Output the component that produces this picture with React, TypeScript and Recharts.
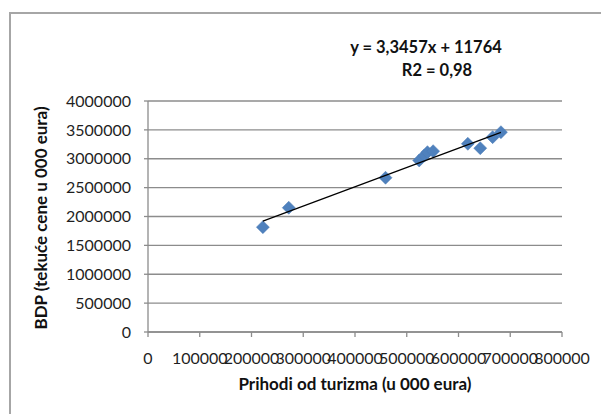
import { CartesianGrid, Customized, Scatter, ScatterChart, XAxis, YAxis } from "recharts";

// prihodi od turizma vs BDP (000 eura)
const prihodi = [222000, 272000, 459000, 524000, 534000, 540000, 551000, 618000, 642000, 666000, 682000];
const bdp = [1816000, 2152000, 2671000, 2970000, 3057000, 3114000, 3131000, 3259000, 3183000, 3374000, 3460000];

// linear trend drawn by Excel, endpoints as they appear
const trendX = [222000, 682000];
const trendY = [1920000, 3457000];

const xTicks = [0, 100000, 200000, 300000, 400000, 500000, 600000, 700000, 800000];
const yTicks = [0, 500000, 1000000, 1500000, 2000000, 2500000, 3000000, 3500000, 4000000];

const equation = "y = 3,3457x + 11764";
const rSquared = "R2 = 0,98";
const xTitle = "Prihodi od turizma (u 000 eura)";
const yTitle = "BDP (tekuće cene u 000 eura)";

const points = prihodi.map((x, i) => ({ x, y: bdp[i] }));
const trend = trendX.map((x, i) => ({ x, y: trendY[i] }));

const FONT = "Lato, 'Open Sans', sans-serif";
const GRID = "#8c8c8c";

function Diamond(props: any) {
  const { cx, cy } = props;
  const r = 6.5;
  return (
    <polygon
      points={`${cx},${cy - r} ${cx + r},${cy} ${cx},${cy + r} ${cx - r},${cy}`}
      fill="#4f81bd"
      stroke="#4a7ab5"
      strokeWidth={0.5}
    />
  );
}

const Nothing = () => <g />;

export default function App() {
  return (
    <div style={{ position: "relative", width: 601, height: 406, overflow: "hidden", fontFamily: FONT }}>
      <div
        style={{
          position: "absolute",
          left: 1,
          top: 4,
          width: 700,
          height: 500,
          border: "2px solid #a6a6a6",
        }}
      />
      <ScatterChart
        width={601}
        height={406}
        margin={{ top: 93, right: 47, left: 0, bottom: 0 }}
        style={{ position: "absolute", left: 0, top: 0 }}
      >
        <CartesianGrid vertical={false} stroke={GRID} strokeWidth={1.3} />
        <XAxis
          type="number"
          dataKey="x"
          domain={[0, 800000]}
          ticks={xTicks}
          interval={0}
          height={82}
          stroke={GRID}
          strokeWidth={1.3}
          tickSize={5}
          tickMargin={16}
          tick={{ fill: "#1f1f1f", fontSize: 16, fontFamily: FONT }}
        />
        <YAxis
          type="number"
          dataKey="y"
          domain={[0, 4000000]}
          ticks={yTicks}
          interval={0}
          width={140}
          stroke={GRID}
          strokeWidth={1.3}
          tickSize={4}
          tickMargin={13}
          tick={{ fill: "#1f1f1f", fontSize: 16, fontFamily: FONT }}
        />
        <Scatter data={points} shape={Diamond} isAnimationActive={false} />
        <Scatter
          data={trend}
          line={{ stroke: "#000", strokeWidth: 1.2 }}
          lineType="joint"
          shape={Nothing}
          isAnimationActive={false}
        />
        <Customized
          component={() => (
            <g fontFamily={FONT} fontWeight="bold" fill="#111">
              <text x={418} y={45} textAnchor="middle" fontSize={16.5}>
                {equation}
              </text>
              <text x={429} y={68} textAnchor="middle" fontSize={16.5}>
                {rSquared}
              </text>
              <text x={347} y={382} textAnchor="middle" fontSize={17}>
                {xTitle}
              </text>
              <text
                x={32}
                y={210}
                textAnchor="middle"
                fontSize={17}
                dominantBaseline="central"
                transform="rotate(-90, 32, 210)"
              >
                {yTitle}
              </text>
            </g>
          )}
        />
      </ScatterChart>
    </div>
  );
}
